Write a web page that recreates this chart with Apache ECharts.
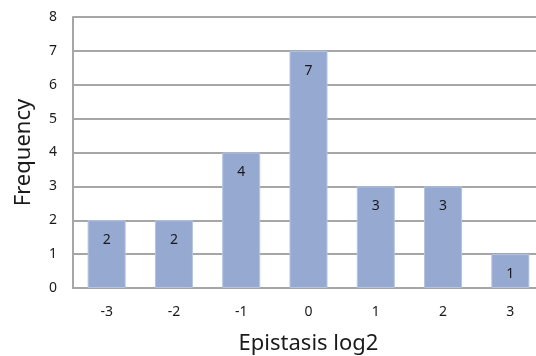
<!DOCTYPE html>
<html><head><meta charset="utf-8">
<script src="https://cdn.jsdelivr.net/npm/echarts@6/dist/echarts.min.js"></script>
<style>html,body{margin:0;padding:0;background:#fff}#c{width:536px;height:356px}</style>
</head><body><div id="c"></div>
<script>
const categories = ['-3','-2','-1','0','1','2','3'];
const frequency = [2,2,4,7,3,3,1];
const yTicks = [0,1,2,3,4,5,6,7,8];

const chart = echarts.init(document.getElementById('c'), null, {renderer:'canvas'});
chart.setOption({
  animation:false,
  backgroundColor:'#fff',
  grid:{left:73, right:-8, top:17, bottom:68, containLabel:false, outerBoundsMode:'none'},
  xAxis:{
    type:'category', data:categories,
    name:'Epistasis log2', nameLocation:'middle', nameGap:45,
    nameTextStyle:{fontFamily:'Noto Sans', fontSize:22, color:'#1a1a1a'},
    axisLine:{lineStyle:{color:'#a6a6a6', width:2}},
    axisTick:{show:false},
    axisLabel:{fontFamily:'Noto Sans', fontSize:14, color:'#1a1a1a', margin:17}
  },
  yAxis:{
    type:'value', min:yTicks[0], max:yTicks[yTicks.length-1], interval:1,
    name:'Frequency', nameLocation:'middle', nameGap:38,
    nameTextStyle:{fontFamily:'Noto Sans', fontSize:22, color:'#1a1a1a'},
    axisLine:{show:true, lineStyle:{color:'#a6a6a6', width:2}},
    axisTick:{show:false},
    splitLine:{lineStyle:{color:'#a6a6a6', width:2}},
    axisLabel:{fontFamily:'Noto Sans', fontSize:14, color:'#1a1a1a', margin:16}
  },
  series:[{
    type:'bar', data:frequency, barWidth:38,
    itemStyle:{color:'#95a9d1', borderColor:'#b4c3e0', borderWidth:1},
    label:{show:true, position:'insideTop', distance:13, fontFamily:'Noto Sans', fontSize:14, color:'#1a1a1a'}
  }]
});
</script></body></html>
